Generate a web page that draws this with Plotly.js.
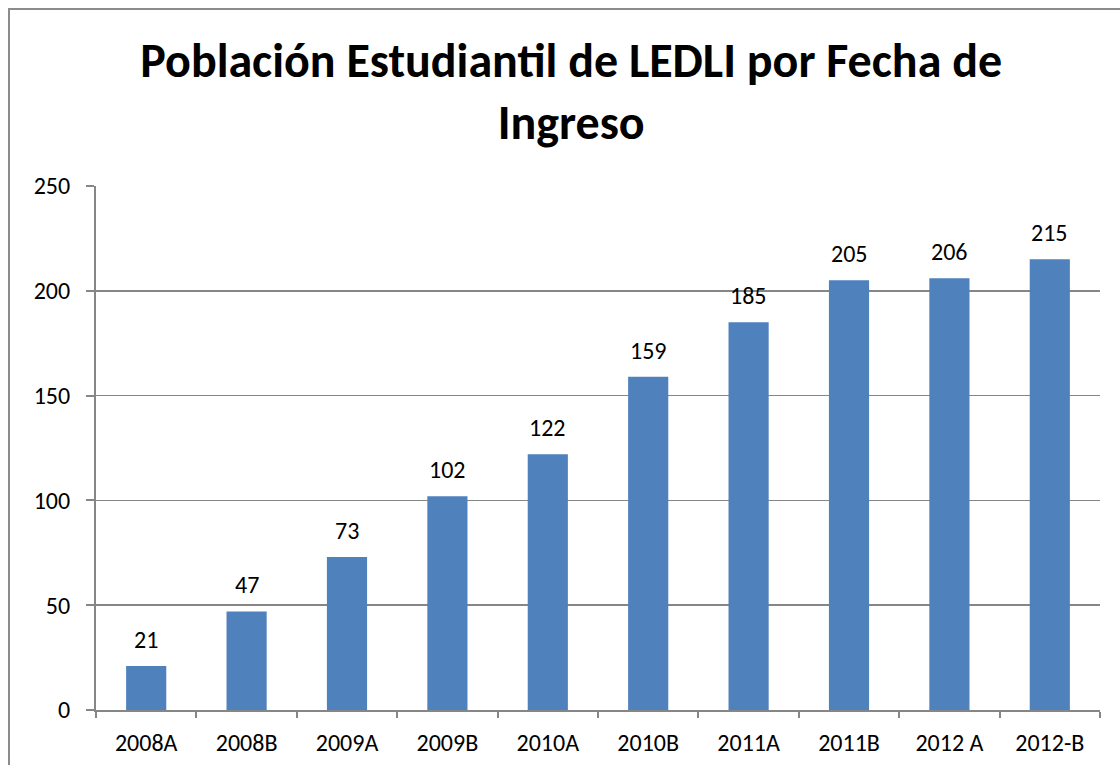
<!DOCTYPE html>
<html><head><meta charset="utf-8">
<script src="https://cdn.plot.ly/plotly-3.0.1.min.js"></script>
<style>html,body{margin:0;padding:0;background:#fff;overflow:hidden}
#frame{position:absolute;left:8px;top:8px;width:1200px;height:800px;border:2px solid #8c8c8c;pointer-events:none}
</style></head>
<body><div id="chart" style="width:1120px;height:765px"></div><div id="frame"></div>
<script>
const categories = ["2008A","2008B","2009A","2009B","2010A","2010B","2011A","2011B","2012 A","2012-B"];
const values = [21,47,73,102,122,159,185,205,206,215];
const titleText = "Población Estudiantil de LEDLI por Fecha de<br>Ingreso";
const font = "Carlito, Calibri, 'Open Sans', sans-serif";
const labels = categories.map((c,i)=>({x:c, y:values[i], xref:'x', yref:'y', text:String(values[i]), showarrow:false, yanchor:'bottom', yshift:10, font:{size:24,color:'#000',family:font}}));
Plotly.newPlot('chart', [{
  type:'bar', x:categories, y:values, marker:{color:'#4F81BD'}, hoverinfo:'none'
}], {
  width:1120, height:765,
  margin:{l:96,r:20,t:186,b:55},
  paper_bgcolor:'#fff', plot_bgcolor:'#fff',
  bargap:0.6,
  font:{family:font,size:24,color:'#000'},
  annotations:labels,
  title:{text:titleText, font:{size:48,family:font,color:'#000',weight:'bold'}, x:0.51, xanchor:'center', y:0.9, yanchor:'top', yref:'container'},
  xaxis:{type:'category', showline:true, linecolor:'#868686', linewidth:2, ticks:'outside', tickson:'boundaries', ticklen:6, tickcolor:'#868686', tickwidth:2, tickfont:{size:24}, showgrid:false, ticklabelstandoff:10},
  yaxis:{range:[0,250], dtick:50, showline:true, linecolor:'#868686', linewidth:2, ticks:'outside', ticklen:8, tickcolor:'#868686', tickwidth:2, gridcolor:'#868686', gridwidth:1.5, zeroline:false, tickfont:{size:24}, ticklabelstandoff:11}
}, {staticPlot:true});
</script></body></html>
